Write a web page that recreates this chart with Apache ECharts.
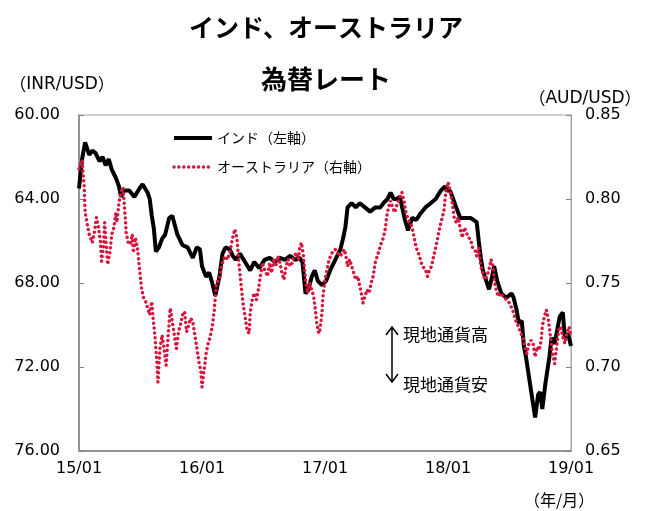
<!DOCTYPE html>
<html>
<head>
<meta charset="utf-8">
<script src="https://cdn.jsdelivr.net/npm/echarts@6/dist/echarts.min.js"></script>
<style>
html, body { margin: 0; padding: 0; background: #fff; }
#main { width: 652px; height: 511px; }
</style>
</head>
<body>
<div id="main"></div>
<script>
// months since 2015/01 and rates
var xTicks = ['15/01', '16/01', '17/01', '18/01', '19/01']

var inrMonths = [0.0, 0.3, 0.6, 1.0, 1.3, 1.6, 2.0, 2.3, 2.6, 2.9, 3.2, 3.6, 3.9, 4.1, 4.4, 4.9, 5.4, 5.9, 6.2, 6.7,
  6.9, 7.1, 7.3, 7.5, 7.8, 8.1, 8.4, 8.8, 9.1, 9.6, 10.1, 10.6, 11.1, 11.5, 11.8, 12.0, 12.4, 12.7, 13.0, 13.3,
  13.7, 14.0, 14.3, 14.7, 15.0, 15.3, 15.7, 16.2, 16.7, 17.1, 17.6, 18.1, 18.6, 19.1, 19.6, 20.1, 20.6, 21.1, 21.5, 21.8,
  22.1, 22.4, 22.7, 23.0, 23.3, 23.7, 24.1, 24.5, 25.0, 25.5, 25.8, 26.0, 26.2, 26.6, 27.0, 27.4, 27.9, 28.4, 28.9, 29.4,
  29.7, 30.1, 30.4, 30.7, 31.0, 31.3, 31.8, 32.1, 32.5, 32.9, 33.3, 33.8, 34.3, 34.8, 35.3, 35.7, 35.9, 36.2, 36.5, 36.8,
  37.2, 37.7, 38.2, 38.8, 39.0, 39.2, 39.4, 39.8, 40.0, 40.3, 40.5, 40.8, 41.2, 41.7, 42.2, 42.4, 42.7, 42.9, 43.2, 43.4,
  43.6, 44.0, 44.5, 44.8, 45.0, 45.2, 45.5, 45.9, 46.1, 46.4, 46.9, 47.2, 47.4, 47.7, 48.0]
var inrValues = [63.5, 62.1, 61.3, 61.9, 61.7, 61.8, 62.2, 62.0, 62.4, 62.1, 62.6, 63.0, 63.4, 63.9, 63.6, 63.6, 63.9, 63.5, 63.3, 63.7,
  64.0, 64.8, 65.4, 66.5, 66.3, 65.9, 65.7, 64.9, 64.8, 65.7, 66.2, 66.3, 66.8, 66.3, 66.4, 67.2, 67.7, 67.5, 68.0, 68.6,
  67.7, 66.6, 66.3, 66.4, 66.7, 66.9, 66.6, 67.0, 67.4, 67.0, 67.3, 66.9, 66.8, 67.0, 66.8, 66.9, 66.7, 66.9, 66.8, 67.0,
  68.5, 68.3, 67.7, 67.4, 67.9, 68.1, 67.9, 67.4, 66.9, 66.4, 65.8, 65.3, 64.4, 64.2, 64.4, 64.2, 64.4, 64.6, 64.4, 64.4,
  64.2, 64.0, 63.7, 64.0, 64.0, 63.9, 65.0, 65.5, 64.9, 65.0, 64.7, 64.4, 64.2, 64.0, 63.6, 63.4, 63.6, 63.6, 64.0, 64.4,
  64.9, 64.9, 64.9, 65.1, 66.0, 66.8, 67.4, 68.0, 68.3, 67.7, 67.2, 67.9, 68.5, 68.7, 68.5, 68.7, 69.3, 69.9, 69.8, 71.0,
  71.5, 72.8, 74.4, 73.3, 73.2, 74.0, 72.8, 71.5, 70.6, 70.9, 69.6, 69.4, 70.6, 70.4, 71.0]

var audMonths = [0.0, 0.3, 0.5, 0.6, 0.8, 1.0, 1.3, 1.5, 1.7, 1.9, 2.1, 2.2, 2.4, 2.5, 2.6, 2.8, 3.0, 3.2, 3.4, 3.6,
  3.7, 3.9, 4.1, 4.3, 4.5, 4.6, 4.8, 5.0, 5.2, 5.3, 5.5, 5.7, 5.9, 6.1, 6.3, 6.5, 6.7, 6.9, 7.1, 7.2,
  7.4, 7.5, 7.6, 7.7, 7.9, 8.1, 8.3, 8.5, 8.7, 8.9, 9.1, 9.3, 9.5, 9.7, 9.9, 10.1, 10.3, 10.5, 10.7, 10.9,
  11.1, 11.3, 11.5, 11.7, 11.9, 12.0, 12.2, 12.4, 12.6, 12.8, 13.0, 13.2, 13.3, 13.4, 13.7, 13.9, 14.1, 14.3, 14.5, 14.7,
  15.0, 15.2, 15.4, 15.6, 15.8, 16.0, 16.2, 16.4, 16.6, 16.7, 16.9, 17.1, 17.3, 17.5, 17.7, 17.9, 18.1, 18.4, 18.6, 18.8,
  19.0, 19.2, 19.4, 19.6, 19.8, 20.0, 20.2, 20.4, 20.6, 20.8, 21.0, 21.2, 21.4, 21.5, 21.7, 21.9, 22.1, 22.3, 22.5, 22.7,
  22.9, 23.1, 23.2, 23.4, 23.5, 23.7, 23.8, 24.0, 24.2, 24.4, 24.7, 25.0, 25.2, 25.5, 25.7, 25.9, 26.1, 26.2, 26.4, 26.6,
  26.8, 27.0, 27.2, 27.4, 27.6, 27.7, 27.9, 28.1, 28.3, 28.5, 28.7, 28.9, 29.1, 29.3, 29.5, 29.7, 29.9, 30.0, 30.2, 30.4,
  30.6, 30.8, 30.9, 31.1, 31.3, 31.5, 31.7, 31.9, 32.1, 32.3, 32.5, 32.7, 32.9, 33.1, 33.3, 33.5, 33.8, 34.0, 34.2, 34.4,
  34.6, 34.8, 35.0, 35.2, 35.4, 35.6, 35.7, 35.8, 36.0, 36.2, 36.4, 36.6, 36.8, 37.0, 37.2, 37.4, 37.6, 37.8, 38.0, 38.2,
  38.4, 38.6, 38.8, 39.0, 39.2, 39.4, 39.6, 39.8, 40.0, 40.2, 40.4, 40.5, 40.7, 40.9, 41.1, 41.4, 41.7, 42.0, 42.3, 42.5,
  42.7, 42.9, 43.1, 43.3, 43.5, 43.7, 43.9, 44.1, 44.3, 44.5, 44.7, 44.9, 45.1, 45.2, 45.4, 45.6, 45.8, 46.0, 46.2, 46.4,
  46.6, 46.8, 47.0, 47.2, 47.4, 47.6, 47.8, 48.0]
var audValues = [0.818, 0.823, 0.808, 0.792, 0.785, 0.779, 0.774, 0.780, 0.789, 0.783, 0.774, 0.763, 0.773, 0.786, 0.777, 0.761, 0.768, 0.779, 0.783, 0.792,
  0.786, 0.798, 0.804, 0.807, 0.790, 0.780, 0.774, 0.773, 0.779, 0.768, 0.777, 0.771, 0.759, 0.747, 0.741, 0.739, 0.735, 0.731, 0.739, 0.731,
  0.719, 0.711, 0.703, 0.691, 0.711, 0.719, 0.711, 0.701, 0.719, 0.735, 0.727, 0.719, 0.711, 0.721, 0.725, 0.731, 0.733, 0.721, 0.725, 0.729,
  0.727, 0.719, 0.711, 0.703, 0.697, 0.688, 0.698, 0.708, 0.714, 0.718, 0.724, 0.734, 0.742, 0.750, 0.752, 0.760, 0.764, 0.766, 0.764, 0.768,
  0.777, 0.782, 0.777, 0.762, 0.750, 0.738, 0.730, 0.722, 0.720, 0.732, 0.740, 0.744, 0.740, 0.746, 0.754, 0.762, 0.758, 0.754, 0.762, 0.756,
  0.764, 0.760, 0.766, 0.762, 0.756, 0.752, 0.760, 0.764, 0.760, 0.762, 0.766, 0.768, 0.764, 0.770, 0.774, 0.766, 0.752, 0.744, 0.750, 0.746,
  0.742, 0.732, 0.726, 0.720, 0.722, 0.732, 0.742, 0.752, 0.758, 0.764, 0.768, 0.770, 0.768, 0.766, 0.768, 0.770, 0.764, 0.760, 0.764, 0.760,
  0.756, 0.752, 0.754, 0.748, 0.742, 0.738, 0.742, 0.746, 0.744, 0.750, 0.754, 0.762, 0.766, 0.770, 0.774, 0.777, 0.783, 0.789, 0.795, 0.799,
  0.795, 0.792, 0.793, 0.798, 0.801, 0.804, 0.799, 0.792, 0.788, 0.786, 0.783, 0.777, 0.771, 0.768, 0.764, 0.760, 0.758, 0.754, 0.758, 0.760,
  0.766, 0.771, 0.777, 0.783, 0.788, 0.793, 0.799, 0.805, 0.810, 0.805, 0.798, 0.789, 0.786, 0.789, 0.782, 0.777, 0.783, 0.780, 0.777, 0.776,
  0.771, 0.770, 0.766, 0.771, 0.760, 0.756, 0.752, 0.754, 0.758, 0.764, 0.760, 0.752, 0.746, 0.742, 0.744, 0.742, 0.740, 0.738, 0.734, 0.730,
  0.726, 0.724, 0.720, 0.718, 0.712, 0.708, 0.714, 0.716, 0.714, 0.706, 0.712, 0.710, 0.716, 0.724, 0.730, 0.734, 0.728, 0.718, 0.708, 0.702,
  0.712, 0.722, 0.724, 0.718, 0.714, 0.720, 0.724, 0.718]

function zip (xs, ys) {
  var out = []
  for (var i = 0; i < xs.length; i++) out.push([xs[i], ys[i]])
  return out
}

var FONT = '"DejaVu Sans", "Noto Sans CJK JP", sans-serif'
var JP = '"Noto Sans CJK JP", sans-serif'
var red = '#d6163c'
var wideParen = { p: { fontFamily: JP, fontSize: 17, color: '#000' } }

var chart = echarts.init(document.getElementById('main'))
chart.setOption({
  animation: false,
  backgroundColor: '#fff',
  textStyle: { fontFamily: FONT, color: '#000' },
  title: [
    { text: 'インド、オーストラリア', left: 'center', top: 10, textStyle: { fontFamily: JP, fontSize: 25, fontWeight: 'bold', color: '#000' } },
    { text: '為替レート', left: 'center', top: 61, textStyle: { fontFamily: JP, fontSize: 26, fontWeight: 'bold', color: '#000' } }
  ],
  grid: { left: 79, top: 115, width: 492, height: 336, show: true, borderColor: '#a6a6a6', borderWidth: 1 },
  legend: {
    orient: 'vertical', left: 167, top: 126, itemWidth: 38, itemHeight: 14, itemGap: 15,
    itemStyle: { opacity: 0 },
    textStyle: { fontFamily: JP, fontSize: 14, color: '#000' },
    data: [
      { name: 'インド（左軸）', lineStyle: { width: 4 } },
      { name: 'オーストラリア（右軸）', lineStyle: { width: 3.4 } }
    ]
  },
  xAxis: {
    type: 'value', min: 0, max: 48, interval: 12,
    splitLine: { show: false },
    axisLine: { lineStyle: { color: '#808080', width: 1.5 } },
    axisTick: { show: false },
    axisLabel: { fontFamily: FONT, fontSize: 16, color: '#000', margin: 10, formatter: function (v) { return xTicks[v / 12] } }
  },
  yAxis: [
    {
      type: 'value', inverse: true, min: 60, max: 76, interval: 4,
      name: '{p|（}INR/USD{p|）}', nameLocation: 'start', nameGap: 22,
      nameTextStyle: { fontFamily: FONT, fontSize: 17, color: '#000', padding: [0, 34, 0, 0], rich: wideParen },
      splitLine: { show: false },
      axisLine: { show: true, lineStyle: { color: '#808080', width: 1.5 } },
      axisTick: { show: true, inside: true, length: 5, lineStyle: { color: '#808080' } },
      axisLabel: { fontFamily: FONT, fontSize: 16, color: '#000', margin: 19, formatter: function (v) { return v.toFixed(2) } }
    },
    {
      type: 'value', min: 0.65, max: 0.85, interval: 0.05,
      name: '{p|（}AUD/USD{p|）}', nameLocation: 'end', nameGap: 8,
      nameTextStyle: { fontFamily: FONT, fontSize: 17, color: '#000', padding: [0, 0, 0, 28], rich: wideParen },
      splitLine: { show: false },
      axisLine: { show: true, lineStyle: { color: '#a6a6a6' } },
      axisTick: { show: true, inside: true, length: 5, lineStyle: { color: '#808080' } },
      axisLabel: { fontFamily: FONT, fontSize: 16, color: '#000', margin: 14, formatter: function (v) { return v.toFixed(2) } }
    }
  ],
  graphic: [
    { type: 'text', left: 524, top: 492, style: { text: '（年/月）', font: '16px ' + JP, fill: '#000' } },
    { type: 'line', shape: { x1: 392, y1: 328, x2: 392, y2: 381 }, style: { stroke: '#000', lineWidth: 1.5 } },
    { type: 'polyline', shape: { points: [[386, 335], [392, 327], [398, 335]] }, style: { stroke: '#000', lineWidth: 1.5, fill: null } },
    { type: 'polyline', shape: { points: [[386, 374], [392, 382], [398, 374]] }, style: { stroke: '#000', lineWidth: 1.5, fill: null } },
    { type: 'text', left: 403, top: 326, style: { text: '現地通貨高', font: '17px ' + JP, fill: '#000' } },
    { type: 'text', left: 403, top: 376, style: { text: '現地通貨安', font: '17px ' + JP, fill: '#000' } }
  ],
  series: [
    {
      name: 'インド（左軸）', type: 'line', yAxisIndex: 0, symbol: 'none', z: 3,
      lineStyle: { color: '#000', width: 4 },
      itemStyle: { color: '#000' },
      data: zip(inrMonths, inrValues)
    },
    {
      name: 'オーストラリア（右軸）', type: 'line', yAxisIndex: 1, symbol: 'none', z: 4,
      lineStyle: { color: red, width: 3.4, type: [0.1, 4.8], cap: 'round' },
      itemStyle: { color: red },
      data: zip(audMonths, audValues)
    }
  ]
})
</script>
</body>
</html>
